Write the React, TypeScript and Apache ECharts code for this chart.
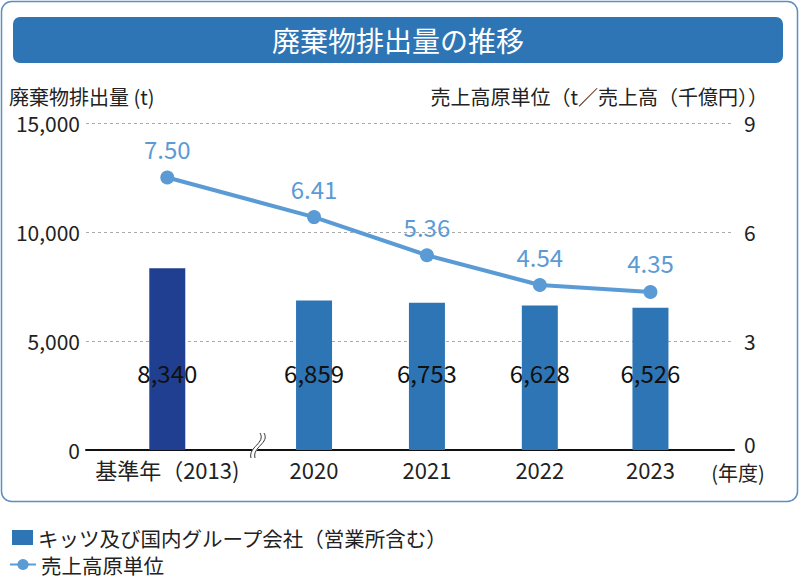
import React, { useEffect, useRef } from "react";
import * as echarts from "echarts";

const categories = ["基準年（2013)", "2020", "2021", "2022", "2023"];
const xPositions = [0, 1.3, 2.3, 3.3, 4.28];
const wasteValues = [8340, 6859, 6753, 6628, 6526];
const intensityValues = [7.5, 6.41, 5.36, 4.54, 4.35];
const barName = "キッツ及び国内グループ会社（営業所含む）";
const lineName = "売上高原単位";

const FONT = "'Noto Sans CJK JP', 'Noto Sans', sans-serif";

export default function App() {
  const ref = useRef<HTMLDivElement>(null);
  useEffect(() => {
    if (!ref.current) return;
    const chart = echarts.init(ref.current, null, { renderer: "svg" });
    const posToLabel: Record<string, string> = {};
    xPositions.forEach((p, i) => (posToLabel[String(p)] = categories[i]));
    chart.setOption({
      animation: false,
      textStyle: { fontFamily: FONT },
      grid: { left: 86, right: 66, top: 123, bottom: 129 },
      legend: [
        {
          left: 12,
          top: 527,
          padding: 0,
          itemWidth: 21,
          itemHeight: 15,
          textStyle: { fontSize: 20.5, lineHeight: 21, color: "#222", fontFamily: FONT },
          data: [{ name: barName, icon: "rect", itemStyle: { color: "#2e75b6" } }],
        },
        {
          left: 9,
          top: 554,
          padding: 0,
          itemWidth: 26,
          itemHeight: 14,
          textStyle: { fontSize: 20.5, lineHeight: 21, color: "#222", fontFamily: FONT },
          data: [{ name: lineName }],
        },
      ],
      xAxis: {
        type: "value",
        min: -0.72,
        max: 5.02,
        axisLine: { show: true, onZero: false, lineStyle: { color: "#111", width: 2 } },
        axisTick: { show: false },
        splitLine: { show: false },
        axisLabel: {
          customValues: xPositions,
          formatter: (v: number) => posToLabel[String(v)] ?? "",
          fontSize: 22,
          color: "#222",
          margin: 8,
          fontFamily: FONT,
        },
      },
      yAxis: [
        {
          type: "value",
          min: 0,
          max: 15000,
          interval: 5000,
          axisLine: { show: false },
          axisTick: { show: false },
          axisLabel: {
            fontSize: 21,
            lineHeight: 22,
            color: "#222",
            margin: 6,
            formatter: (v: number) => v.toLocaleString("en-US"),
          },
          splitLine: { lineStyle: { color: "#aaa", type: [3, 3], width: 1 } },
        },
        {
          type: "value",
          min: 0,
          max: 9,
          interval: 3,
          axisLine: { show: false },
          axisTick: { show: false },
          splitLine: { show: false },
          axisLabel: {
            fontSize: 21,
            lineHeight: 22,
            color: "#222",
            margin: 10,
            formatter: (v: number) => (v === 0 ? "{z|0}" : String(v)),
            rich: { z: { fontSize: 21, lineHeight: 22, padding: [0, 0, 12, 0] } },
          },
        },
      ],
      series: [
        {
          name: barName,
          type: "bar",
          barWidth: 36,
          yAxisIndex: 0,
          itemStyle: { color: "#2e75b6" },
          label: {
            show: true,
            position: "insideBottom",
            distance: 66,
            fontSize: 24,
            color: "#111",
            formatter: (p: any) => Number(p.value[1]).toLocaleString("en-US"),
          },
          data: xPositions.map((x, i) =>
            i === 0
              ? { value: [x, wasteValues[i]], itemStyle: { color: "#203f91" } }
              : { value: [x, wasteValues[i]] }
          ),
          z: 2,
        },
        {
          name: lineName,
          type: "line",
          yAxisIndex: 1,
          symbol: "circle",
          symbolSize: 14,
          lineStyle: { color: "#5b9bd5", width: 4 },
          itemStyle: { color: "#5b9bd5" },
          label: {
            show: true,
            position: "top",
            distance: 10,
            fontSize: 24,
            color: "#5b9bd5",
            formatter: (p: any) => Number(p.value[1]).toFixed(2),
          },
          data: xPositions.map((x, i) => [x, intensityValues[i]]),
          z: 3,
        },
      ],
      graphic: [
        {
          type: "rect",
          z: -10,
          shape: { x: 1.5, y: 1.5, width: 796, height: 500, r: 10 },
          style: { fill: "#fff", stroke: "#5a8ec8", lineWidth: 1.5 },
        },
        {
          type: "rect",
          shape: { x: 13, y: 17, width: 770, height: 46, r: 7 },
          style: { fill: "#2e75b6" },
        },
        {
          type: "text",
          x: 398,
          y: 40,
          style: {
            text: "廃棄物排出量の推移",
            fill: "#fff",
            fontSize: 28,
            fontFamily: FONT,
            align: "center",
            verticalAlign: "middle",
          },
        },
        {
          type: "text",
          x: 9,
          y: 96,
          style: {
            text: "廃棄物排出量 (t)",
            fill: "#222",
            fontSize: 20,
            lineHeight: 20,
            fontFamily: FONT,
            align: "left",
            verticalAlign: "middle",
          },
        },
        {
          type: "text",
          x: 768,
          y: 96,
          style: {
            text: "売上高原単位（t／売上高（千億円））",
            fill: "#222",
            fontSize: 20,
            lineHeight: 20,
            fontFamily: FONT,
            align: "right",
            verticalAlign: "middle",
          },
        },
        {
          type: "text",
          x: 738,
          y: 472,
          style: {
            text: "(年度)",
            fill: "#222",
            fontSize: 20,
            lineHeight: 20,
            fontFamily: FONT,
            align: "center",
            verticalAlign: "middle",
          },
        },
        {
          type: "bezierCurve",
          z: 10,
          shape: { x1: 262, y1: 433, x2: 253, y2: 458, cpx1: 268, cpy1: 443, cpx2: 250, cpy2: 447 },
          style: { stroke: "#fff", lineWidth: 4, fill: null },
        },
        {
          type: "bezierCurve",
          z: 11,
          shape: { x1: 260, y1: 433, x2: 251, y2: 458, cpx1: 266, cpy1: 443, cpx2: 248, cpy2: 447 },
          style: { stroke: "#333", lineWidth: 1, fill: null },
        },
        {
          type: "bezierCurve",
          z: 11,
          shape: { x1: 264, y1: 433, x2: 255, y2: 458, cpx1: 270, cpy1: 443, cpx2: 252, cpy2: 447 },
          style: { stroke: "#333", lineWidth: 1, fill: null },
        },
      ],
    });
    return () => chart.dispose();
  }, []);
  return (
    <div
      ref={ref}
      style={{ position: "fixed", left: 0, top: 0, width: 800, height: 579, background: "#fff" }}
    />
  );
}
